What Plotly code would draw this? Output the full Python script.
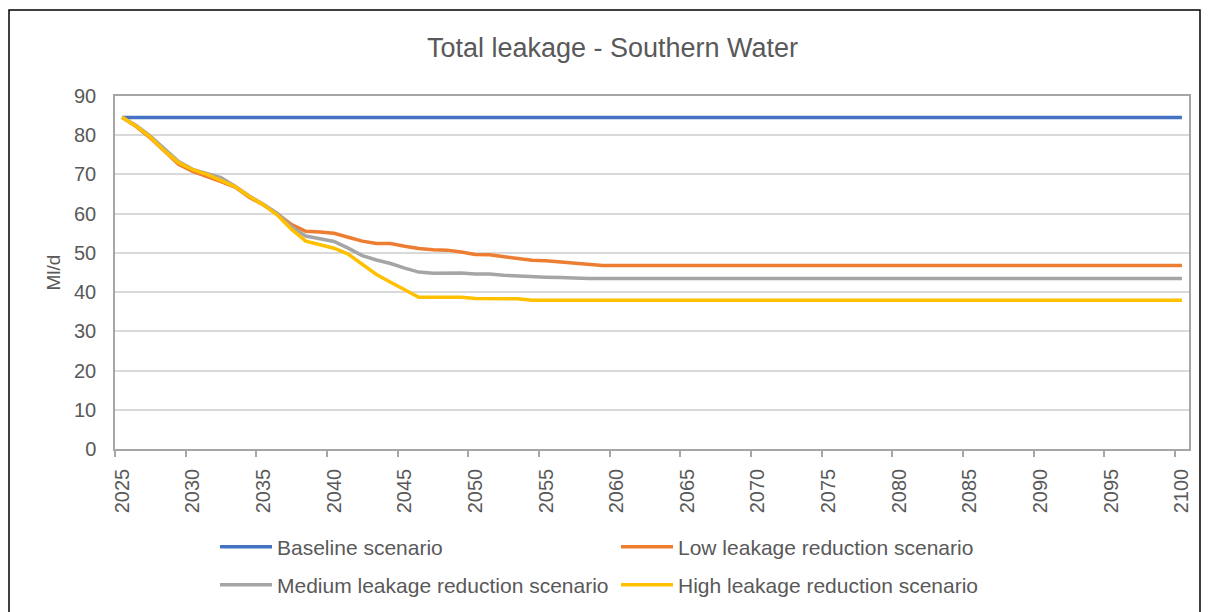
import plotly.graph_objects as go

years = list(range(2025, 2101))

baseline = [
    84.5, 84.5, 84.5, 84.5, 84.5, 84.5, 84.5, 84.5, 84.5, 84.5,
    84.5, 84.5, 84.5, 84.5, 84.5, 84.5, 84.5, 84.5, 84.5, 84.5,
    84.5, 84.5, 84.5, 84.5, 84.5, 84.5, 84.5, 84.5, 84.5, 84.5,
    84.5, 84.5, 84.5, 84.5, 84.5, 84.5, 84.5, 84.5, 84.5, 84.5,
    84.5, 84.5, 84.5, 84.5, 84.5, 84.5, 84.5, 84.5, 84.5, 84.5,
    84.5, 84.5, 84.5, 84.5, 84.5, 84.5, 84.5, 84.5, 84.5, 84.5,
    84.5, 84.5, 84.5, 84.5, 84.5, 84.5, 84.5, 84.5, 84.5, 84.5,
    84.5, 84.5, 84.5, 84.5, 84.5, 84.5,
]

low = [
    84.6, 82.2, 79.3, 75.8, 72.6, 70.8, 69.6, 68.2, 66.8, 64.2,
    62.2, 59.9, 57.2, 55.5, 55.3, 55.0, 54.0, 53.0, 52.4, 52.4,
    51.7, 51.1, 50.8, 50.7, 50.2, 49.6, 49.5, 49.0, 48.7, 48.1,
    48.0, 47.7, 47.4, 47.1, 46.8, 46.8, 46.8, 46.8, 46.8, 46.8,
    46.8, 46.8, 46.8, 46.8, 46.8, 46.8, 46.8, 46.8, 46.8, 46.8,
    46.8, 46.8, 46.8, 46.8, 46.8, 46.8, 46.8, 46.8, 46.8, 46.8,
    46.8, 46.8, 46.8, 46.8, 46.8, 46.8, 46.8, 46.8, 46.8, 46.8,
    46.8, 46.8, 46.8, 46.8, 46.8, 46.8,
]

medium = [
    84.6, 82.5, 79.8, 76.5, 73.3, 71.3, 70.2, 69.2, 67.0, 64.5,
    62.4, 60.0, 56.6, 54.3, 53.6, 52.9, 51.2, 49.3, 48.2, 47.3,
    46.1, 45.1, 44.8, 44.9, 44.9, 44.6, 44.6, 44.3, 44.1, 43.8,
    43.8, 43.7, 43.5, 43.5, 43.5, 43.5, 43.5, 43.5, 43.5, 43.5,
    43.5, 43.5, 43.5, 43.5, 43.5, 43.5, 43.5, 43.5, 43.5, 43.5,
    43.5, 43.5, 43.5, 43.5, 43.5, 43.5, 43.5, 43.5, 43.5, 43.5,
    43.5, 43.5, 43.5, 43.5, 43.5, 43.5, 43.5, 43.5, 43.5, 43.5,
    43.5, 43.5, 43.5, 43.5, 43.5, 43.5,
]

high = [
    84.6, 82.3, 79.5, 76.0, 73.0, 71.2, 70.0, 68.5, 66.9, 64.4,
    62.3, 59.6, 56.0, 53.0, 52.0, 51.2, 49.7, 47.2, 44.5, 42.5,
    40.6, 38.7, 38.7, 38.7, 38.7, 38.4, 38.3, 38.3, 38.3, 37.9,
    37.9, 37.9, 37.9, 37.9, 37.9, 37.9, 37.9, 37.9, 37.9, 37.9,
    37.9, 37.9, 37.9, 37.9, 37.9, 37.9, 37.9, 37.9, 37.9, 37.9,
    37.9, 37.9, 37.9, 37.9, 37.9, 37.9, 37.9, 37.9, 37.9, 37.9,
    37.9, 37.9, 37.9, 37.9, 37.9, 37.9, 37.9, 37.9, 37.9, 37.9,
    37.9, 37.9, 37.9, 37.9, 37.9, 37.9,
]

series_names = [
    "Baseline scenario",
    "Low leakage reduction scenario",
    "Medium leakage reduction scenario",
    "High leakage reduction scenario",
]
series_values = [baseline, low, medium, high]
series_colors = ["#4472C4", "#ED7D31", "#A5A5A5", "#FFC000"]
series_legend_row = ["legend", "legend", "legend2", "legend2"]

x_tick_years = list(range(2025, 2101, 5))
x_tick_labels = [str(y) for y in x_tick_years]
x_boundaries = [y - 0.5 for y in x_tick_years]
y_ticks = list(range(0, 91, 10))

FONT = "Liberation Sans, Arial, sans-serif"
TXT = "#595959"

fig = go.Figure()
for name, vals, col, lg in zip(series_names, series_values, series_colors, series_legend_row):
    fig.add_trace(go.Scatter(
        x=years, y=vals, name=name, mode="lines",
        line=dict(color=col, width=3.5), legend=lg,
    ))

# page has an 8px body margin; figure coords = page coords - 8
W, H = 1209, 612
L, R, T, B = 107, 28, 88, 171
pw, ph = W - L - R, H - T - B
plot_bottom = H - B

def legend_cfg(row_center_fig):
    return dict(
        orientation="h",
        x=(207 - L) / pw, xanchor="left",
        y=(plot_bottom - row_center_fig) / ph, yanchor="middle",
        entrywidth=334, entrywidthmode="pixels",
        itemwidth=52,
        font=dict(size=21, color=TXT, family=FONT),
        bgcolor="rgba(0,0,0,0)",
    )

fig.update_layout(
    width=W, height=H,
    margin=dict(l=L, r=R, t=T, b=B, autoexpand=False),
    paper_bgcolor="white", plot_bgcolor="white",
    font=dict(family=FONT, color=TXT, size=20),
    title=dict(
        text="Total leakage - Southern Water",
        x=0.5, xref="container", xanchor="center",
        y=1 - 40 / H, yref="container", yanchor="middle",
        font=dict(size=27, color=TXT, family=FONT),
    ),
    showlegend=True,
    legend=legend_cfg(539),
    legend2=legend_cfg(577),
    xaxis=dict(
        range=[2024.5, 2100.5],
        tickmode="array", tickvals=x_tick_years, ticktext=x_tick_labels,
        tickangle=-90, ticks="", showgrid=False, zeroline=False,
        showline=True, linecolor="#A6A6A6", linewidth=1.5, mirror=True,
        tickfont=dict(size=20, color=TXT, family=FONT),
        minor=dict(tickmode="array", tickvals=x_boundaries, ticks="outside",
                   ticklen=6, tickcolor="#A6A6A6", tickwidth=1.5, showgrid=False),
        ticklabelstandoff=10,
    ),
    yaxis=dict(
        range=[0, 90],
        tickmode="array", tickvals=y_ticks,
        showgrid=True, gridcolor="#D9D9D9", gridwidth=1.5,
        zeroline=False, ticks="",
        showline=True, linecolor="#A6A6A6", linewidth=1.5, mirror=True,
        tickfont=dict(size=20, color=TXT, family=FONT),
        ticklabelstandoff=13,
        title=dict(text="Ml/d", standoff=8, font=dict(size=19, color=TXT, family=FONT)),
    ),
    shapes=[dict(
        type="rect", xref="paper", yref="paper",
        x0=(1 - L) / pw, x1=(1192 - L) / pw,
        y0=(plot_bottom - 640) / ph, y1=(plot_bottom - 2) / ph,
        line=dict(color="black", width=1.5), fillcolor="rgba(0,0,0,0)",
        layer="above",
    )],
)

fig.write_html("out.html")
